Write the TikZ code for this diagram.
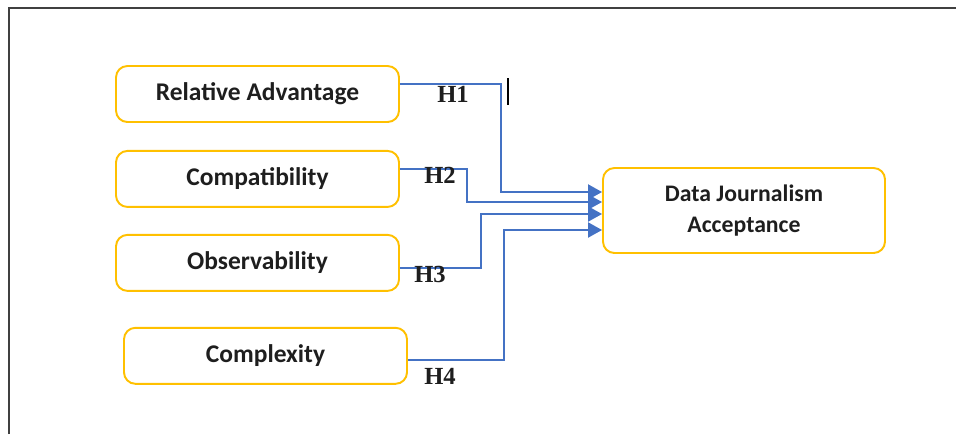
\documentclass[tikz,border=0pt]{standalone}
\usepackage{fontspec}
\setmainfont{Liberation Serif}
\newfontfamily\boxfont{Carlito}
\usepackage{xcolor}
\usetikzlibrary{arrows.meta,calc,positioning}
\definecolor{boxline}{RGB}{255,192,0}
\definecolor{linkblue}{RGB}{68,114,196}
\definecolor{framegray}{RGB}{64,64,64}
\definecolor{boxtext}{RGB}{30,30,30}

\begin{document}
\begin{tikzpicture}[
  factor/.style={draw=boxline, line width=1.1pt, rounded corners=6.5pt, minimum width=5.66cm, minimum height=1.12cm, align=center, font=\boxfont\fontsize{14.5}{17}\selectfont\bfseries, text=boxtext},
  target/.style={factor, minimum width=5.64cm, minimum height=1.70cm, font=\boxfont\fontsize{13.5}{17.5}\selectfont\bfseries},
  arr/.style={-{Triangle[length=2.8mm,width=3mm]}, linkblue, line width=1.2pt},
  hlab/.style={font=\fontsize{14}{17}\selectfont\bfseries, text=boxtext, inner sep=0pt}
]
\useasboundingbox (0,0) rectangle (19.12,-8.68);
\draw[framegray, line width=1.1pt] (0.18,-8.68) -- (0.18,-0.16) -- (19.12,-0.16);
\draw[black, line width=0.7pt] (10.16,-1.56) -- (10.16,-2.1);

\node[factor] (adv) at (5.15,-1.88) {Relative Advantage};
\node[factor, below=0.54cm of adv] (compat) {Compatibility};
\node[factor, below=0.52cm of compat] (obs) {Observability};
\node[factor, below=0.70cm of obs, xshift=0.16cm] (cplx) {Complexity};
\node[target] (dja) at (14.88,-4.21) {Data Journalism\\Acceptance};

\draw[arr] ([yshift=0.2cm]adv.east) -- ++(2.02,0) |- ([yshift=0.37cm]dja.west);
\draw[arr] ([yshift=0.19cm]compat.east) -- ++(1.34,0) |- ([yshift=0.17cm]dja.west);
\draw[arr] ([yshift=-0.1cm]obs.east) -- ++(1.62,0) |- ([yshift=-0.07cm]dja.west);
\draw[arr] ([yshift=-0.08cm]cplx.east) -- ++(1.92,0) |- ([yshift=-0.39cm]dja.west);

\node[hlab] (h1) at (9.06,-1.88) {H1};
\node[hlab] (h2) at (8.8,-3.5) {H2};
\node[hlab] (h3) at (8.6,-5.48) {H3};
\node[hlab] (h4) at (8.8,-7.52) {H4};
\end{tikzpicture}
\end{document}
